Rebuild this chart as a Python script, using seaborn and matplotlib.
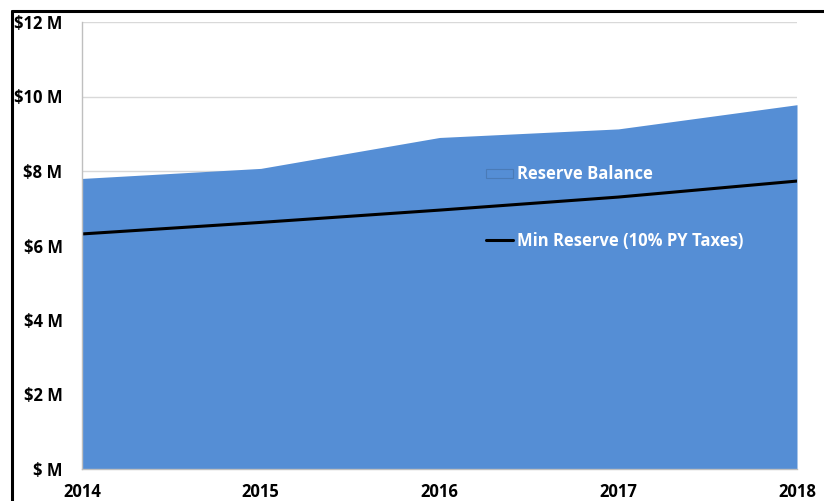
import matplotlib
matplotlib.use("Agg")
import matplotlib.pyplot as plt
from matplotlib.lines import Line2D
from matplotlib.patches import Patch
import seaborn as sns
import pandas as pd

years = [2014, 2015, 2016, 2017, 2018]
reserve_balance = [7.80, 8.07, 8.90, 9.13, 9.78]
min_reserve = [6.31, 6.62, 6.95, 7.30, 7.73]
y_ticks = [0, 2, 4, 6, 8, 10, 12]
y_tick_labels = ["$ M", "$2 M", "$4 M", "$6 M", "$8 M", "$10 M", "$12 M"]

df = pd.DataFrame({"year": years, "balance": reserve_balance, "minimum": min_reserve})

sns.set_theme(style="white")
plt.rcParams["font.family"] = ["Open Sans", "DejaVu Sans"]
plt.rcParams["font.weight"] = "bold"

fill_color = "#558ED5"
grid_color = "#D9D9D9"
label_size = 12

fig = plt.figure(figsize=(8.24, 5.01), dpi=100)
ax = fig.add_axes([82 / 824, 32 / 501, 715 / 824, 447 / 501])

ax.fill_between(df["year"], 0, df["balance"], color=fill_color, linewidth=0, zorder=2)
sns.lineplot(data=df, x="year", y="minimum", color="black", linewidth=2.2, ax=ax, zorder=3)

ax.set_xlim(years[0], years[-1])
ax.set_ylim(0, 12)
ax.set_xticks(years)
ax.set_xticklabels([str(y) for y in years], fontsize=label_size, fontweight="bold")
ax.set_yticks(y_ticks)
ax.set_yticklabels(y_tick_labels, fontsize=label_size, fontweight="bold")
ax.set_xlabel("")
ax.set_ylabel("")

ax.grid(axis="y", color=grid_color, linewidth=1, zorder=0)
ax.set_axisbelow(True)
for side in ("top", "right"):
    ax.spines[side].set_visible(False)
for side in ("left", "bottom"):
    ax.spines[side].set_color("#BFBFBF")
    ax.spines[side].set_linewidth(1)
    ax.spines[side].set_zorder(4)

ax.tick_params(axis="both", which="both", direction="out", length=3,
               color="#BFBFBF", width=1, labelcolor="black")
ax.tick_params(axis="y", pad=11)
ax.tick_params(axis="x", pad=7)

handles = [
    Patch(facecolor=fill_color, edgecolor="#4A7BB7", linewidth=0.8),
    Line2D([0], [0], color="black", linewidth=2.2),
]
labels = ["Reserve Balance", "Min Reserve (10% PY Taxes)"]
leg = ax.legend(handles, labels, loc="center left", bbox_to_anchor=(0.565, 0.585),
                frameon=False, fontsize=label_size, handlelength=1.6, handleheight=0.5,
                handletextpad=0.25, labelspacing=2.9, borderaxespad=0, borderpad=0)
leg.set_zorder(5)
for t in leg.get_texts():
    t.set_color("white")
    t.set_fontweight("bold")

# outer frame strokes along the top and left edges
fig.add_artist(Line2D([12 / 824, 1.0], [1 - 11 / 501, 1 - 11 / 501],
                      color="black", linewidth=2.2, transform=fig.transFigure))
fig.add_artist(Line2D([12 / 824, 12 / 824], [0, 1 - 11 / 501],
                      color="black", linewidth=2.2, transform=fig.transFigure))

fig.savefig("out.png", dpi=100, facecolor="white")
